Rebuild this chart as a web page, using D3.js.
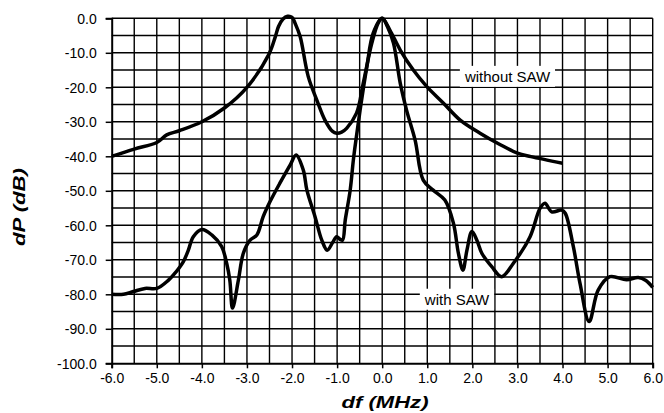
<!DOCTYPE html>
<meta charset="utf-8">
<style>
  body { margin: 0; background: #fff; }
  svg { display: block; font-family: "Liberation Sans", Arial, sans-serif; }
</style>
<div id="chart"></div>
<script src="https://cdn.jsdelivr.net/npm/d3@7/dist/d3.min.js"></script>
<script>

// curve "without SAW" : df (MHz), dP (dB)
var noSawX = [-6.0, -5.5, -5.0, -4.78, -4.5, -4.0, -3.5, -3.0, -2.52, -2.37, -2.3, -2.2, -2.1, -2.0, -1.93,
  -1.82, -1.64, -1.45, -1.27, -1.1, -1.01, -0.9, -0.79, -0.57, -0.42, -0.23, -0.09, 0.0,
  0.17, 0.4, 0.69, 0.99, 1.36, 1.73, 2.17, 2.6, 3.0, 3.3, 4.0];
var noSawY = [-40.0, -37.9, -36.0, -33.8, -32.6, -30.0, -26.0, -20.0, -10.6, -5.3, -2.4, -0.2, 0.6, 0.3, -1.5,
  -5.3, -16.9, -23.7, -29.5, -32.8, -33.3, -33.0, -31.9, -27.5, -18.8, -7.2, -1.4, 0.0,
  -3.4, -9.2, -15.0, -19.8, -24.6, -29.5, -33.3, -36.5, -39.1, -40.1, -42.0];

// curve "with SAW"
var sawX = [-6.0, -5.74, -5.52, -5.26, -5.0, -4.74, -4.63, -4.41, -4.3, -4.19, -4.0, -3.78, -3.56, -3.45,
  -3.38, -3.32, -3.19, -3.08, -2.93, -2.78, -2.64, -2.49, -2.27, -2.04, -1.91, -1.75, -1.67, -1.49,
  -1.34, -1.22, -1.1, -1.01, -0.94, -0.88, -0.82, -0.71, -0.64, -0.59, -0.49, -0.34, -0.2, 0.0,
  0.12, 0.25, 0.4, 0.54, 0.73, 0.91, 1.13, 1.39, 1.58, 1.69, 1.79, 1.88, 1.99, 2.1, 2.21, 2.43,
  2.65, 2.91, 3.28, 3.5, 3.61, 3.76, 3.98, 4.06, 4.24, 4.39, 4.59, 4.79, 5.05, 5.42, 5.68, 5.85, 6.0];
var sawY = [-80.0, -80.0, -79.2, -78.3, -78.3, -75.9, -74.4, -70.5, -67.2, -63.3, -61.2, -62.8, -66.2, -71.0,
  -75.9, -84.0, -75.9, -68.1, -64.3, -62.8, -57.5, -53.2, -47.8, -42.5, -39.6, -44.0, -49.8, -57.5,
  -64.3, -67.2, -65.0, -63.3, -64.0, -64.3, -58.5, -49.8, -41.1, -36.0, -26.6, -14.0, -4.3, 0.0,
  -2.5, -7.2, -18.8, -26.6, -35.3, -46.9, -49.8, -52.7, -59.4, -68.1, -73.0, -67.2, -61.8, -64.3, -68.1, -72.0,
  -74.9, -71.0, -63.3, -55.1, -53.6, -56.1, -55.6, -56.5, -66.2, -77.0, -87.9, -78.8, -74.9, -75.8, -75.1, -76.0, -78.0];

var xTicks = d3.range(-6, 6.01, 1);
var yTicks = d3.range(-100, 0.01, 10);

// curve labels: [text, df, dP]
var labels = [["without SAW", 2.78, -16.9], ["with SAW", 1.66, -81.5]];

var width = 664, height = 413;

var svg = d3.select("#chart").append("svg")
    .attr("width", width)
    .attr("height", height);

var x = d3.scaleLinear().domain([-6, 6]).range([111.7, 652.7]);
var y = d3.scaleLinear().domain([-100, 0]).range([363.3, 18.3]);

var fmt = function(d) { return (Math.abs(d) < 1e-9 ? 0 : d).toFixed(1); };

//grid, every 0.5 MHz and 5 dB
var grid = svg.append("g").attr("class", "grid");
grid.selectAll(".vline")
  .data(d3.range(-5.5, 6.01, 0.5))
  .enter().append("line")
    .attr("x1", d => x(d)).attr("x2", d => x(d))
    .attr("y1", y(0)).attr("y2", y(-100))
    .attr("stroke", "#000")
    .attr("stroke-width", 1.4);
grid.selectAll(".hline")
  .data(d3.range(-95, 0.01, 5))
  .enter().append("line")
    .attr("y1", d => y(d)).attr("y2", d => y(d))
    .attr("x1", x(-6)).attr("x2", x(6))
    .attr("stroke", "#000")
    .attr("stroke-width", 1.4);

//axes
var xAxis = svg.append("g")
    .attr("transform", "translate(0," + y(-100) + ")")
    .call(d3.axisBottom(x).tickValues(xTicks).tickFormat(fmt).tickSize(5).tickPadding(5));
var yAxis = svg.append("g")
    .attr("transform", "translate(" + x(-6) + ",0)")
    .call(d3.axisLeft(y).tickValues(yTicks).tickFormat(fmt).tickSize(6).tickPadding(9));

[xAxis, yAxis].forEach(function(a) {
  a.select(".domain").attr("stroke", "#000").attr("stroke-width", 2);
  a.selectAll(".tick line").attr("stroke", "#000").attr("stroke-width", 1.5);
  a.selectAll(".tick text")
      .attr("fill", "#000")
      .style("font-size", "14px")
      .style("font-family", "'Liberation Sans', Arial, sans-serif");
});
yAxis.selectAll(".tick text").attr("dy", "0.36em");

//curve labels with white boxes
labels.forEach(function(l) {
  var t = svg.append("text")
      .attr("x", x(l[1]))
      .attr("y", y(l[2]))
      .attr("text-anchor", "middle")
      .attr("dy", "0.35em")
      .style("font-size", "15px")
      .text(l[0]);
  var bb = t.node().getBBox();
  svg.insert("rect", function() { return t.node(); })
      .attr("x", bb.x - 4).attr("y", bb.y - 2)
      .attr("width", bb.width + 8).attr("height", bb.height + 4)
      .attr("fill", "#fff");
});

//curves
var line = d3.line()
    .x(d => x(d[0]))
    .y(d => y(d[1]))
    .curve(d3.curveCatmullRom.alpha(0.5));

[[noSawX, noSawY], [sawX, sawY]].forEach(function(s) {
  svg.append("path")
      .datum(s[0].map((v, i) => [v, s[1][i]]))
      .attr("fill", "none")
      .attr("stroke", "#000")
      .attr("stroke-width", 3.5)
      .attr("stroke-linejoin", "round")
      .attr("d", line);
});

//axis titles
svg.append("text")
    .attr("x", 385)
    .attr("y", 408)
    .attr("text-anchor", "middle")
    .attr("textLength", 87)
    .attr("lengthAdjust", "spacingAndGlyphs")
    .style("font-size", "16px")
    .style("font-weight", "bold")
    .style("font-style", "italic")
    .text("df (MHz)");

svg.append("text")
    .attr("transform", "translate(25,207) rotate(-90)")
    .attr("text-anchor", "middle")
    .attr("textLength", 78)
    .attr("lengthAdjust", "spacingAndGlyphs")
    .style("font-size", "16px")
    .style("font-weight", "bold")
    .style("font-style", "italic")
    .text("dP (dB)");
</script>
